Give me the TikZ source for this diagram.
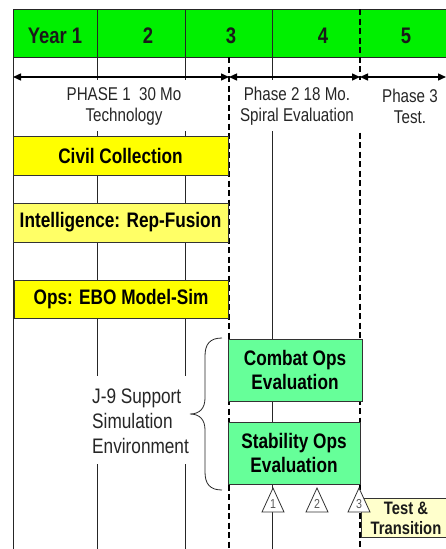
\documentclass[tikz,border=0pt]{standalone}
\usepackage{fontspec}
\setmainfont{Liberation Sans}[FakeStretch=0.82]
\usetikzlibrary{arrows.meta}
\definecolor{hdrgreen}{HTML}{00F000}
\definecolor{boxyellow}{HTML}{FFFF00}
\definecolor{paleyellow}{HTML}{FFFF66}
\definecolor{mint}{HTML}{66FF99}
\definecolor{cream}{HTML}{FFFFCC}
\definecolor{edge}{HTML}{333333}
\tikzset{
  grid/.style={draw=black!85, line width=0.8pt},
  phaseline/.style={draw=black, line width=1.8pt, dash pattern=on 6pt off 3.5pt},
  span/.style={draw=black, line width=1.4pt, {Triangle[length=8pt,width=7pt]}-{Triangle[length=8pt,width=7pt]}},
  hdr/.style={font=\fontsize{22.5}{26}\selectfont\bfseries, text=black!90},
  phasetxt/.style={font=\fontsize{18.5}{21}\selectfont, align=center, text=black!85},
  taskbox/.style={draw=edge, line width=0.9pt, font=\fontsize{21}{24}\selectfont\bfseries, align=center, inner sep=0pt},
  milestone/.style={draw=black!80, fill=white, line width=0.8pt},
  msnum/.style={font=\fontsize{13}{14}\selectfont, text=black!65},
}
\begin{document}
\begin{tikzpicture}[x=1pt,y=-1pt]
\useasboundingbox (0,0) rectangle (446,549);
% header band
\fill[hdrgreen] (13,9) rectangle (446,57);
\draw[grid] (446,9) -- (13,9) -- (13,57) -- (446,57);
% solid grid lines
\draw[grid] (13,57) -- (13,549);
\draw[grid] (97,9) -- (97,549);
\draw[grid] (185,9) -- (185,549);
\draw[grid] (272,9) -- (272,549);
% phase boundary at year 5
\draw[phaseline] (360,9) -- (360,549);
% white band behind phase captions
\fill[white] (14,80) rectangle (445,131);
% gap behind J-9 caption
\fill[white] (90,376) rectangle (192,464);
% phase boundary at 30 months
\draw[phaseline] (229,57) -- (229,549);
% header labels
\node[hdr] (y1) at (55,36) {Year 1};
\node[hdr] (y2) at (148,36) {2};
\node[hdr] (y3) at (231,36) {3};
\node[hdr] (y4) at (323,36) {4};
\node[hdr] (y5) at (406,36) {5};
% phase spans
\coordinate (pa) at (13,77);
\coordinate (pb) at (229,77);
\coordinate (pc) at (360,77);
\coordinate (pd) at (446,77);
\draw[span] (pa) -- (pb);
\draw[span] (pb) -- (pc);
\draw[span] (pc) -- (pd);
\node[phasetxt] (p1) at (124,106) {PHASE 1\ \ 30 Mo\\Technology};
\node[phasetxt] (p2) at (297,106) {Phase 2 18 Mo.\\Spiral Evaluation};
\node[phasetxt] (p3) at (410,106) {Phase 3\\Test.};
% technology tasks
\node[taskbox, fill=boxyellow, minimum width=215pt, minimum height=39pt] (civ) at (120.5,155.5) {Civil Collection};
\node[taskbox, fill=paleyellow, minimum width=215pt, minimum height=39pt] (intel) at (120.5,222.5) {Intelligence: Rep-Fusion};
\node[taskbox, fill=boxyellow, minimum width=214pt, minimum height=38pt] (ebo) at (121,299) {Ops: EBO Model-Sim};
% evaluation tasks
\node[taskbox, fill=mint, minimum width=134pt, minimum height=62pt] (combat) at (295,370) {Combat Ops\\Evaluation};
\node[taskbox, fill=mint, minimum width=132pt, minimum height=62pt] (stab) at (294,453) {Stability Ops\\Evaluation};
% J-9 caption and brace
\node[font=\fontsize{21}{25}\selectfont, align=left, anchor=west, text=black!85, inner sep=0pt] (j9) at (92,421) {J-9 Support\\Simulation\\Environment};
\draw[black!85, line width=0.8pt] (222,338) .. controls (210,338) and (205,344) .. (205,356) -- (205,398) .. controls (205,408) and (200,414) .. (190,414) .. controls (200,414) and (205,420) .. (205,430) -- (205,472) .. controls (205,484) and (210,490) .. (222,490);
% test & transition
\node[draw=edge, fill=cream, line width=0.9pt, anchor=north west, minimum width=92pt, minimum height=39pt, inner sep=0pt] (tt) at (361,498) {};
\node[font=\fontsize{18}{20}\selectfont\bfseries, align=center, text=black!90] (ttl) at (406,518) {Test \&\\Transition};
% milestones
\foreach \x/\n in {273/1,317/2,359/3}{
  \draw[milestone] (\x,488) -- (\x+11,512) -- (\x-11,512) -- cycle;
  \node[msnum] (m\n) at (\x,504) {\n};
}
\end{tikzpicture}
\end{document}
